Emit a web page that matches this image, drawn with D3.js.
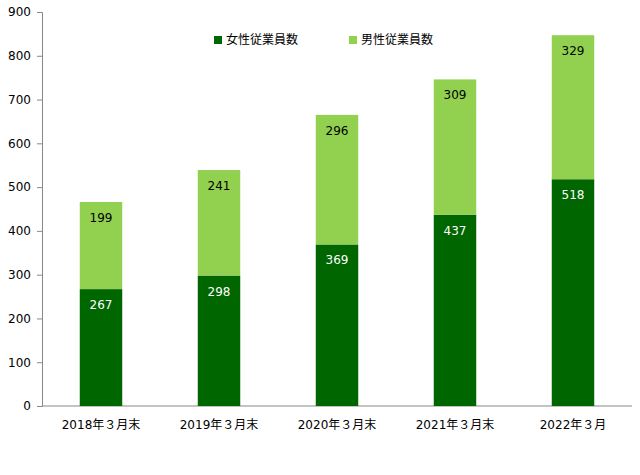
<!DOCTYPE html>
<html><head><meta charset="utf-8">
<script src="https://cdn.jsdelivr.net/npm/d3@7"></script>
<style>body{margin:0;background:#fff}text{font-family:"DejaVu Sans","Noto Sans CJK JP",sans-serif;font-size:12px}</style>
</head><body><div id="chart"></div>
<script>
var categories = ["2018年３月末", "2019年３月末", "2020年３月末", "2021年３月末", "2022年３月"];
var female = [267, 298, 369, 437, 518];
var male = [199, 241, 296, 309, 329];
var yTicks = [0, 100, 200, 300, 400, 500, 600, 700, 800, 900];
var seriesNames = ["女性従業員数", "男性従業員数"];
var colors = ["#006600", "#92d050"];

var W = 640, H = 475, padL = 42, padR = 632, padT = 12, padB = 406;
var svg = d3.select("#chart").append("svg").attr("width", W).attr("height", H);

var x = d3.scaleBand().domain(categories).range([padL, padR]).paddingInner(0.64).paddingOuter(0.32);
var y = d3.scaleLinear().domain([0, 900]).range([padB, padT]);

var yAxis = svg.append("g").attr("transform", "translate(" + padL + ",0)")
  .call(d3.axisLeft(y).tickValues(yTicks).tickSize(5).tickPadding(6));
var xAxis = svg.append("g").attr("transform", "translate(0," + padB + ")")
  .call(d3.axisBottom(x).tickSize(0).tickPadding(14));
svg.selectAll(".domain").attr("stroke", "#888");
yAxis.selectAll("line").attr("stroke", "#888");
xAxis.selectAll(".tick line").remove();
svg.selectAll(".tick text").attr("fill", "#000").style("font-size", "12px");
xAxis.select(".domain").attr("d", "M" + padL + ",0H" + padR);

var data = categories.map(function (c, i) { return {c: c, f: female[i], m: male[i]}; });

var g = svg.append("g");
g.selectAll(".bf").data(data).enter().append("rect")
  .attr("x", function (d) { return x(d.c); }).attr("width", x.bandwidth())
  .attr("y", function (d) { return y(d.f); }).attr("height", function (d) { return padB - y(d.f); })
  .attr("fill", colors[0]);
g.selectAll(".bm").data(data).enter().append("rect")
  .attr("x", function (d) { return x(d.c); }).attr("width", x.bandwidth())
  .attr("y", function (d) { return y(d.f + d.m); }).attr("height", function (d) { return y(d.f) - y(d.f + d.m); })
  .attr("fill", colors[1]);

g.selectAll(".lf").data(data).enter().append("text")
  .attr("x", function (d) { return x(d.c) + x.bandwidth() / 2; })
  .attr("y", function (d) { return y(d.f) + 20; })
  .attr("text-anchor", "middle").attr("fill", "#fff").text(function (d) { return d.f; });
g.selectAll(".lm").data(data).enter().append("text")
  .attr("x", function (d) { return x(d.c) + x.bandwidth() / 2; })
  .attr("y", function (d) { return y(d.f + d.m) + 20; })
  .attr("text-anchor", "middle").attr("fill", "#000").text(function (d) { return d.m; });

var legX = [214, 349];
seriesNames.forEach(function (n, i) {
  svg.append("rect").attr("x", legX[i]).attr("y", 36).attr("width", 8).attr("height", 8).attr("fill", colors[i]);
  svg.append("text").attr("x", legX[i] + 12).attr("y", 44).text(n);
});
</script></body></html>
